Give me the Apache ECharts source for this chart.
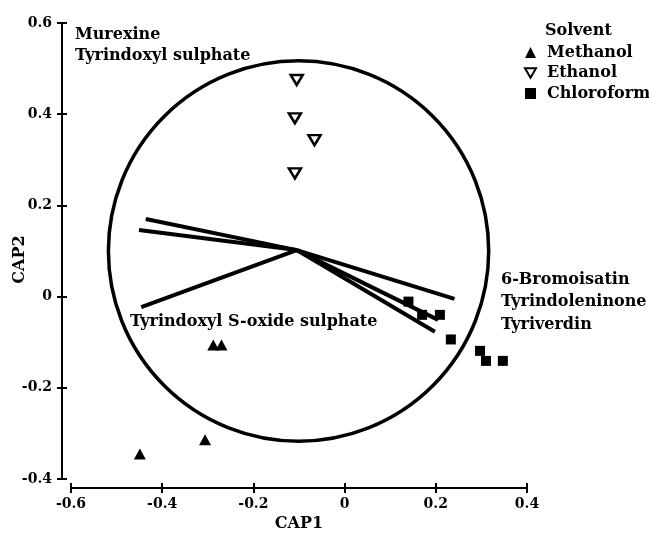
<!DOCTYPE html>
<html>
<head>
<meta charset="utf-8">
<script src="https://cdn.jsdelivr.net/npm/echarts@6/dist/echarts.min.js"></script>
<style>html,body{margin:0;padding:0;background:#fff}#c{width:649px;height:533px}</style>
</head>
<body>
<div id="c"></div>
<script>
// ---- data ----
const xTicks = [-0.6, -0.4, -0.2, 0, 0.2, 0.4];
const yTicks = [-0.4, -0.2, 0, 0.2, 0.4, 0.6];
const methanolX = [-0.288, -0.270, -0.306, -0.449];
const methanolY = [-0.106, -0.106, -0.314, -0.345];
const ethanolX = [-0.105, -0.109, -0.066, -0.109];
const ethanolY = [0.475, 0.391, 0.343, 0.270];
const chloroX = [0.140, 0.170, 0.209, 0.233, 0.297, 0.310, 0.347];
const chloroY = [-0.011, -0.040, -0.040, -0.094, -0.119, -0.141, -0.141];
const circleCenter = [-0.101, 0.100];
const circleRadius = 0.417;
const vecOrigin = [-0.105, 0.102];
const vecEndX = [-0.436, -0.451, -0.446, 0.241, 0.205, 0.198];
const vecEndY = [0.170, 0.146, -0.023, -0.005, -0.051, -0.077];
const seriesNames = ['Methanol', 'Ethanol', 'Chloroform'];

const FONT = 'DejaVu Serif';
const zip = (xs, ys) => xs.map((x, i) => [x, ys[i]]);
const vecData = vecEndX.map((x, i) => [vecOrigin[0], vecOrigin[1], x, vecEndY[i]]);
const downTri = 'path://M0,0L20,0L10,17.3Z';

const baseAxis = {
  type: 'value', offset: 9, splitLine: {show: false}, nameMoveOverlap: false,
  axisLine: {show: true, onZero: false, lineStyle: {color: '#000', width: 2}},
  axisTick: {show: true, length: 5, lineStyle: {color: '#000', width: 2}}
};
const fmt = v => (Math.abs(v) < 1e-9 ? '0' : String(+v.toFixed(1)));
const labelFont = 'bold 16px "DejaVu Serif"';

const chart = echarts.init(document.getElementById('c'));
chart.setOption({
  backgroundColor: '#fff',
  animation: false,
  grid: {left: 71, right: 122, top: 23, bottom: 54, containLabel: false, outerBoundsMode: 'none'},
  xAxis: [
    Object.assign({}, baseAxis, {
      min: xTicks[0], max: xTicks[xTicks.length - 1], interval: 0.2, position: 'bottom',
      name: 'CAP1', nameLocation: 'middle', nameGap: 28,
      nameTextStyle: {fontFamily: FONT, fontWeight: 'bold', fontSize: 16, color: '#000'},
      axisLabel: {margin: 9, fontFamily: FONT, fontWeight: 'bold', fontSize: 14, color: '#000', formatter: fmt}
    }),
    Object.assign({}, baseAxis, {
      min: xTicks[0], max: xTicks[xTicks.length - 1], interval: 0.2, position: 'bottom',
      axisLine: {show: false, onZero: false}, axisLabel: {show: false},
      axisTick: {show: true, inside: true, length: 5, lineStyle: {color: '#000', width: 2}}
    })
  ],
  yAxis: [
    Object.assign({}, baseAxis, {
      min: yTicks[0], max: yTicks[yTicks.length - 1], interval: 0.2, position: 'left',
      name: 'CAP2', nameLocation: 'middle', nameGap: 34,
      nameTextStyle: {fontFamily: FONT, fontWeight: 'bold', fontSize: 16, color: '#000', padding: [0, 17, 0, 0]},
      axisLabel: {margin: 10, fontFamily: FONT, fontWeight: 'bold', fontSize: 14, color: '#000', formatter: fmt}
    }),
    Object.assign({}, baseAxis, {
      min: yTicks[0], max: yTicks[yTicks.length - 1], interval: 0.2, position: 'left',
      axisLine: {show: false, onZero: false}, axisLabel: {show: false},
      axisTick: {show: true, inside: true, length: 5, lineStyle: {color: '#000', width: 2}}
    })
  ],
  legend: {
    data: seriesNames, orient: 'vertical', left: 524, top: 44.5, itemGap: 4.5, padding: 0,
    itemWidth: 11, itemHeight: 11,
    textStyle: {fontFamily: FONT, fontWeight: 'bold', fontSize: 16, color: '#000', padding: [0, 0, 0, 6]},
    selectedMode: false
  },
  graphic: [
    {type: 'text', left: 545, top: 23, style: {text: 'Solvent', font: labelFont, fill: '#000'}},
    {type: 'text', left: 75, top: 24, style: {text: 'Murexine\nTyrindoxyl sulphate', font: labelFont, fill: '#000', lineHeight: 21}},
    {type: 'text', left: 130, top: 314, style: {text: 'Tyrindoxyl S-oxide sulphate', font: labelFont, fill: '#000'}},
    {type: 'text', left: 501, top: 268, style: {text: '6-Bromoisatin\nTyrindoleninone\nTyriverdin', font: labelFont, fill: '#000', lineHeight: 22.75}}
  ],
  series: [
    {
      type: 'custom', name: 'circle', silent: true, clip: false,
      data: [[circleCenter[0], circleCenter[1], circleRadius]],
      renderItem: (params, api) => {
        const c = api.coord([api.value(0), api.value(1)]);
        const r = api.size([api.value(2), api.value(2)]);
        return {type: 'circle', shape: {cx: c[0], cy: c[1], r: r[0]},
          style: {fill: 'none', stroke: '#000', lineWidth: 3.5}};
      }
    },
    {
      type: 'custom', name: 'vectors', silent: true, clip: false,
      data: vecData,
      renderItem: (params, api) => {
        const a = api.coord([api.value(0), api.value(1)]);
        const b = api.coord([api.value(2), api.value(3)]);
        return {type: 'line', shape: {x1: a[0], y1: a[1], x2: b[0], y2: b[1]},
          style: {stroke: '#000', lineWidth: 4, lineCap: 'butt'}};
      }
    },
    {
      type: 'scatter', name: seriesNames[0], data: zip(methanolX, methanolY),
      symbol: 'triangle', symbolSize: [12, 11], itemStyle: {color: '#000', opacity: 1}, z: 5
    },
    {
      type: 'scatter', name: seriesNames[1], data: zip(ethanolX, ethanolY),
      symbol: downTri, symbolSize: [12, 10],
      itemStyle: {color: '#fff', borderColor: '#000', borderWidth: 2.5, opacity: 1}, z: 5
    },
    {
      type: 'scatter', name: seriesNames[2], data: zip(chloroX, chloroY),
      symbol: 'rect', symbolSize: 10, itemStyle: {color: '#000', opacity: 1}, z: 5
    }
  ]
});
</script>
</body>
</html>
